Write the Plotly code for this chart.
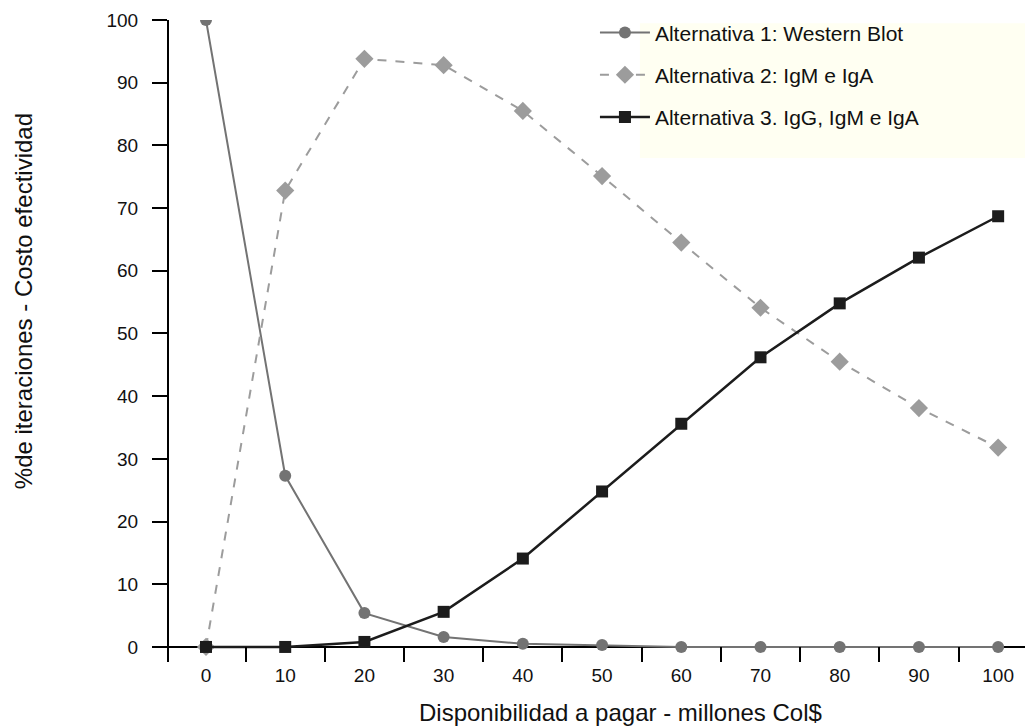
import plotly.graph_objects as go

x_vals = [0, 10, 20, 30, 40, 50, 60, 70, 80, 90, 100]
alt1 = [100, 27.3, 5.4, 1.6, 0.5, 0.3, 0, 0, 0, 0, 0]
alt2 = [0, 72.8, 93.8, 92.8, 85.5, 75.1, 64.5, 54.1, 45.5, 38.1, 31.8]
alt3 = [0, 0, 0.8, 5.6, 14.1, 24.8, 35.6, 46.2, 54.8, 62.1, 68.7]
names = ["Alternativa 1: Western Blot", "Alternativa 2: IgM e IgA", "Alternativa 3. IgG, IgM e IgA"]
x_ticks = [0, 10, 20, 30, 40, 50, 60, 70, 80, 90, 100]
y_ticks = [0, 10, 20, 30, 40, 50, 60, 70, 80, 90, 100]

FONT = "Liberation Sans, Arial, sans-serif"

fig = go.Figure()
fig.add_trace(go.Scatter(
    x=x_vals, y=alt1, name=names[0], mode="lines+markers", legendgroup="a",
    line=dict(color="#737373", width=2),
    marker=dict(symbol="circle", size=12, color="#737373")))
fig.add_trace(go.Scatter(
    x=x_vals, y=alt2, name=names[1], mode="lines+markers", legendgroup="b",
    line=dict(color="#9c9c9c", width=2, dash="dash"),
    marker=dict(symbol="diamond", size=14, color="#9c9c9c")))
fig.add_trace(go.Scatter(
    x=x_vals, y=alt3, name=names[2], mode="lines+markers", legendgroup="c",
    line=dict(color="#1c1c1c", width=2.5),
    marker=dict(symbol="square", size=12, color="#1c1c1c")))

# legend background box
fig.add_shape(type="rect", xref="paper", yref="paper",
              x0=0.545, x1=1.02, y0=0.785, y1=0.995,
              fillcolor="#FFFFF2", line=dict(width=0), layer="below")

fig.add_annotation(text="%de iteraciones - Costo efectividad", textangle=-90,
                   xref="paper", yref="paper", x=-0.169, y=0.562,
                   xanchor="center", yanchor="middle", showarrow=False,
                   font=dict(family=FONT, size=24, color="#111"))
fig.add_annotation(text="Disponibilidad a pagar - millones Col$",
                   xref="paper", yref="paper", x=0.523, y=-0.0779,
                   xanchor="center", yanchor="middle", showarrow=False,
                   font=dict(family=FONT, size=24, color="#111"))

fig.update_layout(
    width=1033, height=726,
    margin=dict(l=161, r=8, t=12, b=72, autoexpand=False),
    plot_bgcolor="white", paper_bgcolor="white",
    font=dict(family=FONT, size=18, color="#111"),
    showlegend=True,
    legend=dict(x=0.493, y=1.012, xanchor="left", yanchor="top",
                bgcolor="rgba(0,0,0,0)", borderwidth=0, itemwidth=50,
                font=dict(family=FONT, size=21, color="#111"),
                tracegroupgap=12),
    xaxis=dict(range=[-4.67, 104.4], tickmode="array", tickvals=x_ticks,
               ticks="", showline=False, showgrid=False, zeroline=False,
               tickfont=dict(size=19),
               minor=dict(tick0=-5, dtick=10, ticks="inside", ticklen=15,
                          tickwidth=2, tickcolor="black", showgrid=False)),
    yaxis=dict(range=[-2.4, 100], tickmode="array", tickvals=y_ticks,
               ticks="outside", ticklen=15, tickwidth=2, tickcolor="black",
               ticklabelstandoff=10,
               showline=True, linecolor="black", linewidth=2,
               showgrid=False, zeroline=True, zerolinecolor="black",
               zerolinewidth=2, tickfont=dict(size=19)),
)

fig.write_html("out.html")
